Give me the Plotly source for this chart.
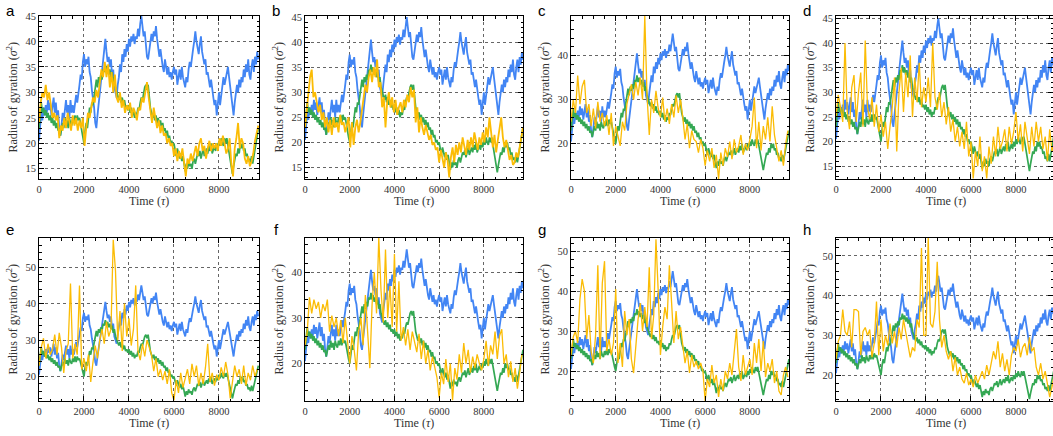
import numpy as np
import plotly.graph_objects as go

# ---------------- data ----------------
DT_FINE = 50      # sampling step (tau) of the blue / green series
DT_DENSE = 75     # sampling step (tau) of orange series a, b
DT_SPARSE = 100   # sampling step (tau) of orange series c-h

blue = [
    20.5, 23, 26, 24.5, 27, 25.5, 27.5, 26, 28.5, 26.5,
    28, 25.5, 27.5, 29, 26, 28, 25, 26.5, 23, 21.5,
    23.5, 26, 24.5, 27.5, 28.5, 26, 27.5, 25, 28.5, 26,
    27.5, 26, 28.5, 29.5, 28, 30.5, 31.5, 33.5, 32.5, 36,
    37.5, 35, 36.5, 35.5, 37, 34, 33, 30.5, 29, 27,
    24, 23, 25.5, 27.5, 30, 32, 34.5, 36, 38, 40.5,
    38, 36, 37, 35, 36.5, 33, 34.5, 31, 30, 29,
    31.5, 33, 35.5, 34, 37.5, 36, 38.5, 37, 39.5, 38,
    40.5, 39, 41, 40, 41.5, 39.5, 41, 40.5, 42.5, 41,
    43.5, 45, 43, 41, 42, 39, 37, 36.5, 38.5, 40,
    41.5, 40, 42, 41, 43, 40.5, 38, 37, 38.5, 36.5,
    35, 34, 36.5, 35, 33.5, 35, 33, 34, 32.5, 34,
    35, 33.5, 34.5, 31.5, 33, 34.5, 32.5, 35, 33, 31.5,
    31, 33, 32, 34.5, 36, 35, 37.5, 38.5, 40, 42,
    40, 39, 37.5, 39.5, 41, 38, 37, 35.5, 36.5, 33.5,
    34, 32, 31, 32.5, 30, 29, 27.5, 28.5, 25.5, 28,
    30, 27.5, 29.5, 31, 33, 31.5, 32.5, 34, 35, 33,
    31, 29, 27, 25.5, 28, 30, 31.5, 30, 32.5, 31,
    33, 32, 34.5, 33, 35.5, 34, 36.5, 33.5, 32.5, 35,
    36.5, 34, 37, 35.5, 38, 36.5,
]

green = [
    23, 26.5, 28, 26, 27, 25.5, 26.5, 25, 26, 24.5,
    25.5, 24, 25, 23.5, 24.5, 23, 24, 22.5, 23, 21.5,
    22.5, 24, 23, 25, 23.5, 24.5, 23, 25, 24, 23.5,
    25, 24, 25.5, 24, 25.5, 24.5, 25, 23.5, 22.5, 21,
    20, 22.5, 24, 23, 25.5, 27, 26, 28, 27.5, 29.5,
    30.5, 32.5, 31, 33, 32, 33.5, 32.5, 34.5, 34, 35.5,
    34, 35, 33.5, 34.5, 33, 34, 32, 33, 31, 30,
    29.5, 28.5, 29.5, 28, 29, 27.5, 28.5, 27, 27.5, 26.5,
    27.5, 26, 27, 25.5, 26.5, 25, 26, 25.5, 27, 26.5,
    28, 29, 28.5, 30, 31, 31.5, 30.5, 31.5, 29, 27,
    26, 25, 26, 24.5, 25.5, 24, 25, 23.5, 24.5, 23,
    24, 22.5, 23, 21.5, 22.5, 21, 21.5, 20, 20.5, 19.5,
    20, 18.5, 17.5, 19, 18, 17, 18, 16.5, 17.5, 16,
    14.5, 16, 15, 16.5, 15.5, 16, 15, 16.5, 17, 16,
    17, 18, 17.5, 18.5, 17, 18, 19, 17.5, 18.5, 19,
    18, 19.5, 18.5, 20, 18, 19, 19.5, 18.5, 20, 19,
    20.5, 19.5, 21, 20, 19.5, 21, 20, 21, 19.5, 18,
    16.5, 15, 14, 15.5, 16.5, 18, 17.5, 19, 18, 20,
    19, 20, 18.5, 19, 17.5, 18, 16.5, 17, 16, 17.5,
    16, 17.5, 19, 20.5, 22, 23,
]

orange_a = [
    24, 28, 30, 29, 31.5, 28.5, 30, 27, 25, 26, 24.5, 25.5, 21, 23.5,
    22.5, 25, 23, 26, 24, 22.5, 25.5, 23.5, 25, 22.5, 24.5, 23, 25,
    19.5, 23, 26, 25, 27.5, 29, 28, 30.5, 29, 32, 34.5, 33, 36,
    33, 35.5, 31, 34, 30, 33.5, 29, 28, 30, 27, 28.5, 26, 27.5,
    26.5, 28, 25, 27, 26, 24.5, 27, 26.5, 29, 28, 30.5, 32, 29,
    26, 24, 27, 25, 23, 24.5, 22, 23.5, 21.5, 22, 20, 21, 19.5,
    20, 17.5, 19, 16.5, 18.5, 17, 19, 15.5, 13.5, 17, 16, 18, 16.5,
    18, 19.5, 17.5, 20, 21, 18.5, 19.5, 17, 19, 20.5, 18.5, 20, 19,
    20, 18.5, 21, 19.5, 21.5, 20, 18, 19, 21, 16, 13.5, 19, 21,
    24, 19, 21, 20, 17, 16, 17.5, 15.5, 16.5, 18, 20.5, 22, 23.5,
]

orange_b = [
    23, 26, 30, 33, 34.5, 29, 30, 28, 26, 27.5, 24.5, 26, 23, 25,
    22, 24.5, 21.5, 25, 23, 24, 22, 25.5, 23.5, 24, 22, 23.5, 25,
    19, 24, 19.5, 23, 24.5, 22, 24, 27, 29, 31.5, 30, 33, 34.5,
    32, 35, 33, 36.5, 31, 32, 27, 29, 23, 28, 30, 27, 29,
    26, 28.5, 25.5, 27, 28, 26, 28.5, 27, 29.5, 28, 31, 29, 30.5,
    24, 27, 22, 25, 23, 21.5, 23.5, 22, 20.5, 21.5, 19.5, 20, 18.5,
    19, 16, 18.5, 17, 15, 18, 16.5, 13, 17, 19, 16, 19.5, 17.5,
    20, 18, 21, 19, 17.5, 20.5, 18.5, 21, 19, 22, 20, 18.5, 21,
    19.5, 22, 20, 23, 21, 25, 22, 19, 21.5, 18, 20.5, 23, 25,
    21, 19, 20.5, 18, 16.5, 17.5, 15.5, 16, 18, 17, 19.5, 21, 23,
]

orange_c = [
    25, 30, 27, 35.5, 29, 33, 34.5, 27, 29, 24,
    28, 23.5, 29.5, 25, 27, 24, 26.5, 22, 27, 19.5,
    24, 22, 19.5, 25, 23, 29, 31, 33.5, 30, 34,
    31, 35, 30, 49, 31, 22, 30, 27, 32, 28,
    26, 30.5, 25, 28, 24.5, 29, 26, 31, 27, 30,
    26, 21, 24.5, 19, 23, 21, 20.5, 18, 21, 19,
    15, 18.5, 16, 19, 14.5, 17.5, 12, 18, 15, 19,
    17, 20.5, 16.5, 21, 18, 19.5, 22, 17.5, 20, 18.5,
    21, 24, 30.5, 19, 25, 18.5, 24, 21, 26, 20.5,
    28.5, 22, 19, 16, 18.5, 15, 20, 23,
]

orange_d = [
    25, 29.5, 27, 24, 40, 26, 22.5, 31, 33.5, 24,
    30, 34, 23, 40.5, 27, 24.5, 29, 23, 27.5, 22,
    25.5, 21, 24, 18.5, 23, 27, 33, 18, 30, 35,
    26, 34, 29, 37.5, 25, 33, 28, 36, 27, 31,
    28, 33, 27, 40, 29, 26.5, 30, 25, 28, 23.5,
    27, 22, 24.5, 20, 23, 19, 22, 18.5, 24, 17,
    20, 12.5, 18, 15, 21, 14, 17, 12.5, 19, 15.5,
    21, 17, 23, 18.5, 20, 22.5, 18, 23, 19.5, 22,
    26, 20, 23.5, 18, 24, 21, 17.5, 23, 19, 24,
    20, 23, 18.5, 21, 16, 22.5, 18, 19.5,
]

orange_e = [
    23, 28, 30.5, 25, 29, 26, 27.5, 31.5, 26, 32,
    28, 21, 27, 29, 45.5, 25, 29, 26, 45, 22,
    25, 21.5, 26, 18.5, 24, 28.5, 25, 30, 33, 29,
    35, 31, 33, 57.5, 49, 30, 38, 27, 40, 31,
    36, 28.5, 33, 45, 27, 24.5, 29, 25.5, 30, 28,
    26, 21.5, 25, 20, 22, 19, 21.5, 18, 22, 15.5,
    13.5, 19, 15.5, 21, 17, 19.5, 22, 18, 23.5, 20,
    23, 17.5, 21, 18, 22.5, 29, 18.5, 21, 17.5, 20.5,
    19, 22.5, 20, 24, 20.5, 14, 19, 23, 20, 22,
    18, 23, 17.5, 21, 19, 23, 20, 22,
]

orange_f = [
    24, 27, 34.5, 31, 34, 32, 33.5, 30, 33, 31.5,
    34, 27, 30.5, 28, 30, 26, 29.5, 24.5, 30, 25,
    20, 26, 23, 18.5, 27, 30, 24, 35, 28, 19,
    33, 40, 31, 47.5, 36, 29, 45, 30, 37, 28,
    44, 27, 38, 25, 28, 24, 27.5, 23, 27, 25,
    22.5, 26.5, 21, 25, 20, 23, 18.5, 21.5, 19, 17,
    12.5, 18, 15.5, 21, 16, 20, 12, 19, 16.5, 22,
    18, 24.5, 20, 23, 18, 21.5, 19, 22, 20, 18.5,
    21, 25, 19.5, 24, 22, 27, 21, 26, 27.5, 20,
    22, 17, 20.5, 16, 19, 14.5, 18, 22,
]

orange_g = [
    24, 28.5, 30, 27, 38, 43, 40, 28, 34, 25,
    22, 29, 46.5, 23, 42, 47.5, 25, 28, 24, 27,
    40.5, 22, 27, 21, 35, 29, 33, 23, 19.5, 26,
    33, 37, 30, 36, 31, 46, 28, 34, 53, 40,
    24, 31, 36, 33, 46.5, 37, 27, 35, 28, 31,
    26, 22, 25, 19.5, 24, 21, 22.5, 20.5, 22, 20,
    12.5, 18, 16, 21.5, 17, 19, 13.5, 18, 15, 20,
    18, 22, 19, 25, 30.5, 21, 17.5, 24, 19, 21,
    23, 19, 27, 22, 28, 20, 27.5, 18.5, 22, 20,
    23, 17, 20, 15, 14, 19, 21, 18.5,
]

orange_h = [
    24, 28.5, 30, 36.5, 31, 30, 33.5, 27, 36.5, 36.5,
    36, 25, 31, 32, 30, 31.5, 24.5, 28, 38.5, 25,
    34, 26, 30, 27.5, 33, 28, 31, 27, 32, 29,
    34, 30.5, 28, 24.5, 27, 26, 34, 32, 52, 30,
    30, 54.5, 33, 32, 36, 48.5, 34, 27, 30, 26,
    24, 26, 21, 24.5, 20, 22, 19, 18, 20.5, 17.5,
    19, 17, 20, 18, 19.5, 21, 19, 22.5, 20, 23,
    26, 24, 28.5, 22, 25.5, 21, 24, 20, 25, 27,
    26, 29, 24.5, 27, 28, 25, 29.5, 26, 27, 22,
    20, 23, 19, 21, 18, 14.5, 17, 20,
]

panel_labels = ["a", "b", "c", "d", "e", "f", "g", "h"]
oranges = [orange_a, orange_b, orange_c, orange_d,
           orange_e, orange_f, orange_g, orange_h]
orange_steps = [DT_DENSE, DT_DENSE, DT_SPARSE, DT_SPARSE,
                DT_SPARSE, DT_SPARSE, DT_SPARSE, DT_SPARSE]
y_ranges = [[13, 45], [12.7, 45.2], [12, 49], [12.4, 45.5],
            [13.3, 58], [11.8, 47.5], [12.5, 53.3], [13.5, 54.5]]
x_max = [9780, 9750, 9750, 9780, 9780, 9750, 9750, 9780]
y_dtick = [5, 5, 10, 5, 10, 10, 10, 10]
y_minor = [1, 1, 2, 1, 2, 2, 2, 2]
x_ticks = [0, 2000, 4000, 6000, 8000]

BLUE, GREEN, ORANGE = "#4285F4", "#34A853", "#FBBC05"

# ---------------- layout geometry (pixels) ----------------
W, H = 1053, 436
col_px = [(39, 259), (305, 523), (571, 789), (836, 1056)]
row_px = [(16, 179), (238, 401)]

fig = go.Figure()
layout = dict(width=W, height=H, margin=dict(l=0, r=0, t=0, b=0),
              paper_bgcolor="white", plot_bgcolor="white",
              showlegend=False, annotations=[])

serif = "Liberation Serif"
tick_font = dict(family=serif, size=10.5, color="#333")
title_font = dict(family=serif, size=12, color="#333")

t_blue = DT_FINE * np.arange(len(blue))
t_green = DT_FINE * np.arange(len(green))


def dom_x(px):
    return min(max(px / W, 0.0), 1.0)


for i in range(8):
    r, c = divmod(i, 4)
    n = i + 1
    xa, ya = f"x{n}", f"y{n}"
    x0, x1 = col_px[c]
    y0, y1 = row_px[r]
    t_or = orange_steps[i] * np.arange(len(oranges[i]))
    w_or = 1.8 if orange_steps[i] == DT_DENSE else 1.3

    fig.add_trace(go.Scatter(x=t_blue, y=blue, mode="lines", xaxis=xa, yaxis=ya,
                             line=dict(color=BLUE, width=1.8)))
    fig.add_trace(go.Scatter(x=t_green, y=green, mode="lines", xaxis=xa, yaxis=ya,
                             line=dict(color=GREEN, width=1.7)))
    fig.add_trace(go.Scatter(x=t_or, y=oranges[i], mode="lines", xaxis=xa, yaxis=ya,
                             line=dict(color=ORANGE, width=w_or)))

    common = dict(showgrid=True, gridcolor="#666", griddash="dot", gridwidth=0.8,
                  showline=True, linecolor="black", linewidth=1, mirror="ticks",
                  ticks="inside", ticklen=5, tickcolor="black", tickwidth=0.8,
                  zeroline=False, tickfont=tick_font, automargin=False)
    # portion of the axis visible inside the page
    x1_vis = min(x1, W)
    xr = x_max[i] * (x1_vis - x0) / (x1 - x0)
    layout[f"xaxis{n}"] = dict(
        common, domain=[dom_x(x0), dom_x(x1_vis)], range=[0, xr], anchor=ya,
        tickvals=x_ticks,
        minor=dict(dtick=500, tick0=0, ticks="inside", ticklen=2.5,
                   tickcolor="black", tickwidth=0.8, showgrid=False))
    layout[f"yaxis{n}"] = dict(
        common, domain=[1 - y1 / H, 1 - y0 / H], range=y_ranges[i], anchor=xa,
        dtick=y_dtick[i], tick0=0,
        minor=dict(dtick=y_minor[i], tick0=0, ticks="inside", ticklen=2.5,
                   tickcolor="black", tickwidth=0.8, showgrid=False))

    ymid = 1 - (y0 + y1) / 2 / H
    if r == 0:
        letter = dict(y=1.0, yanchor="top")
    else:
        letter = dict(y=1 - 229 / H, yanchor="middle")
    layout["annotations"] += [
        dict(text="Radius of gyration (<i>σ</i><sup>2</sup>)", xref="paper", yref="paper",
             x=(x0 - 27) / W, y=ymid, textangle=-90, showarrow=False,
             xanchor="center", yanchor="middle", font=title_font),
        dict(text="Time (<i>τ</i>)", xref="paper", yref="paper",
             x=(x0 + x1) / 2 / W, y=1 - (y1 + 22) / H, showarrow=False,
             xanchor="center", yanchor="middle", font=title_font),
        dict(text=panel_labels[i], xref="paper", yref="paper",
             x=(x0 - 29) / W, showarrow=False, xanchor="center",
             font=dict(family="Liberation Sans", size=15, color="black"), **letter),
    ]

fig.update_layout(**layout)
fig.write_html("out.html",
               config={"displayModeBar": False},
               post_script="document.body.style.margin='0px';")
